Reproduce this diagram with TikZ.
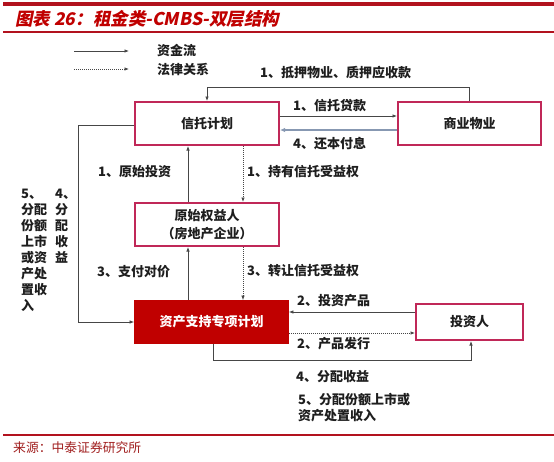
\documentclass[tikz,border=0pt]{standalone}
\usepackage{fontspec}
\setmainfont{Noto Sans CJK SC}
\newfontfamily\titlefont{Noto Sans CJK SC}[FakeSlant=0.2]
\usetikzlibrary{arrows.meta,calc}
\definecolor{hdred}{RGB}{192,0,0}
\definecolor{rulec}{RGB}{178,18,30}
\definecolor{boxb}{RGB}{192,40,88}
\definecolor{arrg}{RGB}{70,70,70}
\definecolor{retc}{RGB}{135,152,178}
\definecolor{srcc}{RGB}{160,30,30}
\definecolor{txt}{RGB}{30,30,30}
\begin{document}
\begin{tikzpicture}[x=1pt,y=-1pt,
  lbl/.style={font=\fontsize{13}{16}\selectfont\bfseries, text=txt, inner sep=0pt},
  box/.style={draw=boxb, line width=1.6pt, fill=white, inner sep=0pt, align=center,
    font=\fontsize{13}{18}\selectfont\bfseries, text=txt},
  arr/.style={draw=arrg, line width=0.7pt, -{Latex[length=4.5pt,width=3.5pt]}},
  law/.style={arr, dash pattern=on 1pt off 1pt},
]
\useasboundingbox (0,0) rectangle (554,461);
% header and footer rules
\draw[rulec, line width=4pt] (3,4) -- (554,4);
\draw[rulec, line width=1.8pt] (3,32) -- (554,32);
\draw[rulec, line width=1.8pt] (3,435) -- (554,435);
\node[anchor=west, inner sep=0pt, text=hdred, font=\titlefont\fontsize{17.5}{20}\selectfont\bfseries] (title) at (15,19) {图表 26：租金类-CMBS-双层结构};
\node[anchor=west, inner sep=0pt, text=srcc, font=\fontsize{12.8}{14}\selectfont] (src) at (13,448) {来源：中泰证券研究所};

% legend
\coordinate (lg1a) at (74,51); \coordinate (lg1b) at (129,51);
\coordinate (lg2a) at (74,69); \coordinate (lg2b) at (129,69);
\draw[arr] (lg1a) -- (lg1b);
\draw[law] (lg2a) -- (lg2b);
\node[lbl, anchor=west] (lgt1) at (157,50) {资金流};
\node[lbl, anchor=west] (lgt2) at (157,69) {法律关系};

% boxes
\node[box, minimum width=144.4pt, minimum height=43.4pt] (xintuo) at (207,123.5) {信托计划};
\node[box, minimum width=143.4pt, minimum height=43.4pt] (shangye) at (469.5,123.5) {商业物业};
\node[box, minimum width=144.4pt, minimum height=43.4pt] (yuanshi) at (207,224.5) {原始权益人\\（房地产企业）};
\node[draw=hdred, fill=hdred, line width=0.8pt, inner sep=0pt, minimum width=154pt, minimum height=43pt,
  text=white, font=\fontsize{13}{17}\selectfont\bfseries] (zichan) at (211.5,322) {资产支持专项计划};
\node[box, minimum width=107.4pt, minimum height=36.4pt] (touzi) at (469.5,322) {投资人};

% top loop: 商业物业 -> 信托计划
\draw[arr] (shangye.north) -- ++(0,-14) -| (xintuo.north);
\node[lbl, anchor=west] (l1a) at (260,73) {1、抵押物业、质押应收款};
% loan and repayment
\draw[arr] ([yshift=7.5pt]xintuo.east) -- ([yshift=7.5pt]shangye.west);
\draw[draw=retc, line width=1.8pt, -{Latex[length=5pt,width=4.5pt]}] ([yshift=-6.5pt]shangye.west) -- ([yshift=-6.5pt]xintuo.east);
\node[lbl, anchor=west] (l1b) at (293,106) {1、信托贷款};
\node[lbl, anchor=west] (l4a) at (293,144) {4、还本付息};

% 信托计划 <-> 原始权益人
\coordinate (ua) at ([xshift=-19pt]yuanshi.north);
\coordinate (ub) at ([xshift=-19pt]xintuo.south);
\coordinate (da) at ([xshift=36pt]xintuo.south);
\coordinate (db) at ([xshift=36pt]yuanshi.north);
\draw[arr] (ua) -- (ub);
\draw[law] (da) -- (db);
\node[lbl, anchor=west] (l1c) at (98,172) {1、原始投资};
\node[lbl, anchor=west] (l1d) at (247,172) {1、持有信托受益权};

% 原始权益人 <-> 资产支持专项计划
\coordinate (ub2) at ([xshift=-19pt]yuanshi.south);
\coordinate (da2) at ([xshift=36pt]yuanshi.south);
\draw[arr] (ub2 |- zichan.north) -- (ub2);
\draw[law] (da2) -- (da2 |- zichan.north);
\node[lbl, anchor=west] (l3a) at (97,272) {3、支付对价};
\node[lbl, anchor=west] (l3b) at (247,271) {3、转让信托受益权};

% left loop: 信托计划 -> 资产支持专项计划
\coordinate (lx) at (78,0);
\draw[arr] ([yshift=-2pt]xintuo.west) -| (lx |- zichan.west) -- (zichan.west);
\node[lbl, anchor=north west, align=left] (l5v) at (21,188.5) {5、\\分配\\份额\\上市\\或资\\产处\\置收\\入};
\node[lbl, anchor=north west, align=left] (l4v) at (55,188.5) {4、\\分\\配\\收\\益};

% 投资人 <-> 资产支持专项计划
\coordinate (ia) at ([yshift=10pt]touzi.west);
\coordinate (ib) at ([yshift=-11pt]touzi.west);
\draw[arr] (ia) -- (ia -| zichan.east);
\draw[law] (ib -| zichan.east) -- (ib);
\node[lbl, anchor=west] (l2a) at (297,301) {2、投资产品};
\node[lbl, anchor=west] (l2b) at (297,344) {2、产品发行};

% bottom loop: 资产支持专项计划 -> 投资人
\draw[arr] ([xshift=1.5pt]zichan.south) -- ++(0,16) -| ([xshift=1.5pt]touzi.south);
\node[lbl, anchor=west] (l4b) at (296,377) {4、分配收益};
\node[lbl, anchor=north west, align=left] (l5b) at (298,393.5) {5、分配份额上市或\\资产处置收入};
\end{tikzpicture}
\end{document}
